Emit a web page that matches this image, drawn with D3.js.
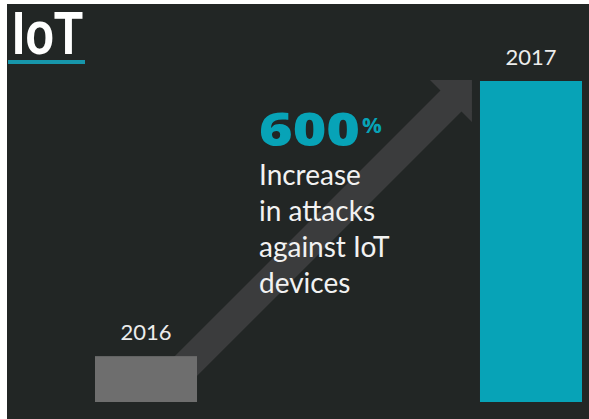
<!DOCTYPE html>
<html>
<head>
<meta charset="utf-8">
<script src="https://cdn.jsdelivr.net/npm/d3@7"></script>
<style>
  html, body { margin: 0; padding: 0; background: #ffffff; }
  svg { display: block; }
</style>
</head>
<body>
<svg id="chart" width="589" height="419"></svg>
<script>
// Yearly IoT attack volume, indexed to 2016 = 1
const years = ["2016", "2017"];
const attacks = [1, 7];
const titleText = "IoT";
const captionLines = ["Increase", "in attacks", "against IoT", "devices"];

const W = 589, H = 419;
const teal = "#07a3b7";
const svg = d3.select("#chart");

// dark panel (page edge shows as a thin light strip at top/left)
svg.append("rect").attr("x", 0).attr("y", 0).attr("width", W).attr("height", H).attr("fill", "#ffffff");
svg.append("rect").attr("x", 7).attr("y", 4).attr("width", W - 7).attr("height", H - 4).attr("fill", "#222625");

const x = d3.scaleBand().domain(years).range([95, 582]).paddingInner(0.735).paddingOuter(0);
const y = d3.scaleLinear().domain([0, d3.max(attacks)]).range([402, 81]);

// growth arrow running from the first bar to the top of the last
const x0 = x(years[0]) + x.bandwidth() * 0.7;
const tipX = x(years[1]) - 8, tipY = y(attacks[1]) - 1;
const leg = 42, half = 10.5;
const hmX = tipX - leg / 2, hmY = tipY + leg / 2;      // middle of the head's base
const startX = x0, startY = hmX + hmY - startX;        // shaft start on the same 45° line
const arrow = [
  [startX - half, startY - half],
  [hmX - half, hmY - half],
  [tipX - leg, tipY],
  [tipX, tipY],
  [tipX, tipY + leg],
  [hmX + half, hmY + half],
  [startX + half, startY + half]
];
svg.append("path")
  .attr("d", d3.line()(arrow) + "Z")
  .attr("fill", "#3b3c3d");

// bars
const colors = ["#6e6e6e", teal];
svg.selectAll("rect.bar")
  .data(years)
  .join("rect")
  .attr("class", "bar")
  .attr("x", d => x(d))
  .attr("y", (d, i) => y(attacks[i]))
  .attr("width", x.bandwidth())
  .attr("height", (d, i) => y(0) - y(attacks[i]))
  .attr("fill", (d, i) => colors[i]);

// year labels above bars
svg.selectAll("text.year")
  .data(years)
  .join("text")
  .attr("class", "year")
  .attr("x", d => x(d) + x.bandwidth() / 2)
  .attr("y", (d, i) => y(attacks[i]) - 16)
  .attr("text-anchor", "middle")
  .attr("font-family", "Lato, sans-serif")
  .attr("font-size", 22)
  .attr("fill", "#ececec")
  .text(d => d);

// title with underline
svg.append("text")
  .attr("x", 12).attr("y", 54)
  .attr("font-family", "'Liberation Sans', Arial, sans-serif")
  .attr("font-weight", "bold")
  .attr("font-size", 61)
  .attr("textLength", 71)
  .attr("lengthAdjust", "spacingAndGlyphs")
  .attr("fill", "#ffffff")
  .text(titleText);
svg.append("rect").attr("x", 8).attr("y", 60).attr("width", 77).attr("height", 4).attr("fill", "#1796ab");

// headline percentage, derived from the data
const pct = Math.round((attacks[1] - attacks[0]) / attacks[0] * 100);
svg.append("text")
  .attr("x", 259).attr("y", 146)
  .attr("font-family", "'Open Sans', sans-serif")
  .attr("font-weight", 800)
  .attr("font-size", 46)
  .attr("textLength", 101)
  .attr("lengthAdjust", "spacingAndGlyphs")
  .attr("fill", teal)
  .text(pct);
svg.append("text")
  .attr("x", 362).attr("y", 133)
  .attr("font-family", "'Open Sans', sans-serif")
  .attr("font-weight", 700)
  .attr("font-size", 22)
  .attr("fill", teal)
  .text("%");

// caption
svg.append("g")
  .selectAll("text")
  .data(captionLines)
  .join("text")
  .attr("x", 259)
  .attr("y", (d, i) => 185 + i * 36)
  .attr("font-family", "Lato, sans-serif")
  .attr("font-size", 28)
  .attr("fill", "#f2f2f2")
  .text(d => d);
</script>
</body>
</html>
